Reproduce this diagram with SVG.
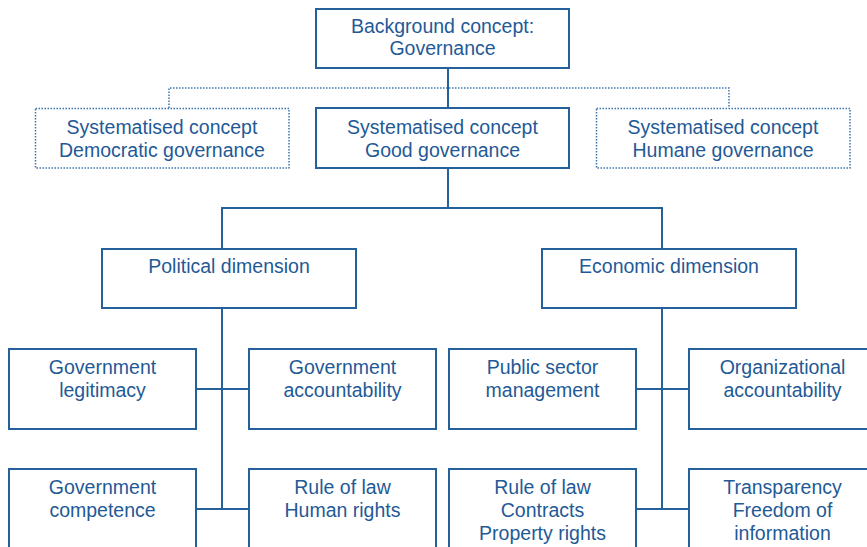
<svg xmlns="http://www.w3.org/2000/svg" width="867" height="547" viewBox="0 0 867 547">
  <style>
    .box { fill: #ffffff; stroke: #24609a; stroke-width: 2; }
    .alt { fill: #ffffff; stroke: #3a74aa; stroke-width: 1.5; stroke-dasharray: 1.5 1.5; }
    .link { fill: none; stroke: #24609a; stroke-width: 2; }
    .dot { fill: none; stroke: #3a74aa; stroke-width: 1.5; stroke-dasharray: 1.5 1.5; }
    text { font-family: "Liberation Sans", Arial, sans-serif; font-size: 19.5px; fill: #1f5a96; text-anchor: middle; }
  </style>
  <rect width="867" height="547" fill="#ffffff"/>

  <!-- connectors -->
  <g id="connectors">
    <path class="dot" d="M169 108 V88 H729 V108"/>
    <path class="link" d="M448 68 V108"/>
    <path class="link" d="M448 168 V208 M222 248 V208 H662 V248"/>
    <path class="link" d="M222 308 V509 M196 389 H249 M196 509 H249"/>
    <path class="link" d="M662 308 V509 M636 389 H689 M636 509 H689"/>
  </g>

  <g id="background">
    <rect class="box" x="316" y="9" width="253" height="59"/>
    <text x="442.5" y="33">Background concept:</text>
    <text x="442.5" y="55">Governance</text>
  </g>

  <g id="democratic">
    <rect class="alt" x="35.5" y="108.5" width="253.5" height="59.5"/>
    <text x="162" y="134">Systematised concept</text>
    <text x="162" y="157">Democratic governance</text>
  </g>

  <g id="good">
    <rect class="box" x="316" y="108" width="253" height="60"/>
    <text x="442.5" y="134">Systematised concept</text>
    <text x="442.5" y="157">Good governance</text>
  </g>

  <g id="humane">
    <rect class="alt" x="596.5" y="108.5" width="253.5" height="59.5"/>
    <text x="723" y="134">Systematised concept</text>
    <text x="723" y="157">Humane governance</text>
  </g>

  <g id="political">
    <rect class="box" x="102" y="249" width="254" height="59"/>
    <text x="229" y="273">Political dimension</text>
  </g>

  <g id="economic">
    <rect class="box" x="542" y="249" width="254" height="59"/>
    <text x="669" y="273">Economic dimension</text>
  </g>

  <g id="gov-legitimacy">
    <rect class="box" x="9" y="349" width="187" height="80"/>
    <text x="102.5" y="374">Government</text>
    <text x="102.5" y="397">legitimacy</text>
  </g>

  <g id="gov-accountability">
    <rect class="box" x="249" y="349" width="187" height="80"/>
    <text x="342.5" y="374">Government</text>
    <text x="342.5" y="397">accountability</text>
  </g>

  <g id="gov-competence">
    <rect class="box" x="9" y="469" width="187" height="90"/>
    <text x="102.5" y="494">Government</text>
    <text x="102.5" y="517">competence</text>
  </g>

  <g id="rule-human">
    <rect class="box" x="249" y="469" width="187" height="90"/>
    <text x="342.5" y="494">Rule of law</text>
    <text x="342.5" y="517">Human rights</text>
  </g>

  <g id="public-sector">
    <rect class="box" x="449" y="349" width="187" height="80"/>
    <text x="542.5" y="374">Public sector</text>
    <text x="542.5" y="397">management</text>
  </g>

  <g id="org-accountability">
    <rect class="box" x="689" y="349" width="187" height="80"/>
    <text x="782.5" y="374">Organizational</text>
    <text x="782.5" y="397">accountability</text>
  </g>

  <g id="rule-property">
    <rect class="box" x="449" y="469" width="187" height="90"/>
    <text x="542.5" y="494">Rule of law</text>
    <text x="542.5" y="517">Contracts</text>
    <text x="542.5" y="540">Property rights</text>
  </g>

  <g id="transparency">
    <rect class="box" x="689" y="469" width="187" height="90"/>
    <text x="782.5" y="494">Transparency</text>
    <text x="782.5" y="517">Freedom of</text>
    <text x="782.5" y="540">information</text>
  </g>
</svg>
